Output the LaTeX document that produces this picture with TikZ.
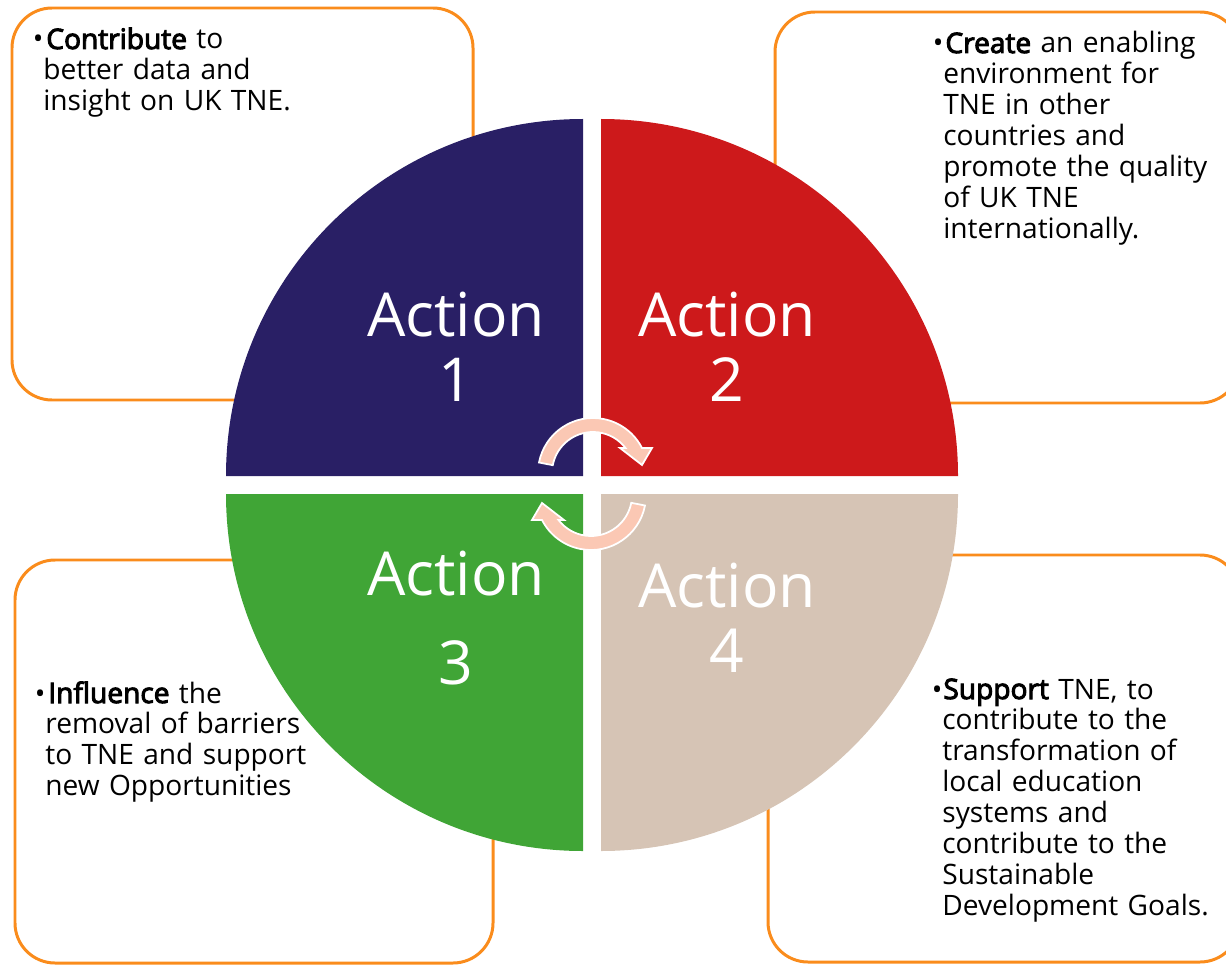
\documentclass[tikz,border=0pt]{standalone}
\usepackage{fontspec}
\setmainfont[AutoFakeBold=3.5]{Open Sans}

\definecolor{actnavy}{RGB}{41,31,101}
\definecolor{actred}{RGB}{205,25,27}
\definecolor{actgreen}{RGB}{64,165,54}
\definecolor{actbeige}{RGB}{214,196,181}
\definecolor{boxorange}{RGB}{250,140,28}
\definecolor{arrowpink}{RGB}{251,200,180}

\begin{document}
\begin{tikzpicture}[x=0.02cm,y=0.02cm,
    infobox/.style={draw=boxorange,line width=1.7pt,fill=white,rounded corners=0.8cm},
    infotext/.style={anchor=base west,inner sep=0pt,text width=7cm,align=left,
        font=\fontsize{16}{17.6}\selectfont},
    actlabel/.style={anchor=base,inner sep=0pt,text width=5cm,align=center,text=white},
    turn/.style={fill=arrowpink,draw=white,line width=1pt},
    cyclearrow/.pic={
        \filldraw[turn] (169:55) arc[start angle=169,end angle=27,radius=55]
            -- (59,25) -- (49,8) -- (27,25) -- (37.6:41)
            arc[start angle=37.6,end angle=169,radius=41] -- cycle;
    }]
    \clip (0,0) rectangle (1226,965);

    %boxes
    \filldraw[infobox] (12,957) rectangle (473,565);
    \filldraw[infobox] (775,953) rectangle (1240,562);
    \filldraw[infobox] (15,405) rectangle (493,2);
    \filldraw[infobox] (768,410) rectangle (1240,3);

    %quadrants
    \fill[actnavy] (583,489) -- (226,489) arc[start angle=180,end angle=90,radius=357] -- cycle;
    \fill[actred] (601,489) -- (601,846) arc[start angle=90,end angle=0,radius=357] -- cycle;
    \fill[actgreen] (583,471) -- (583,114) arc[start angle=270,end angle=180,radius=357] -- cycle;
    \fill[actbeige] (601,471) -- (958,471) arc[start angle=0,end angle=-90,radius=357] -- cycle;

    %texts
    \node[infotext] (t1) at (43,916) {\llap{•}\kern1.7pt\textbf{Contribute} to\\better data and\\insight on UK TNE.};
    \node[infotext] (t2) at (943,912) {\llap{•}\kern1.2pt\textbf{Create} an enabling\\environment for\\TNE in other\\countries and\\promote the quality\\of UK TNE\\internationally.};
    \node[infotext] (t3) at (45,262) {\llap{•}\kern1.7pt\textbf{Influence} the\\removal of barriers\\to TNE and support\\new Opportunities};
    \node[infotext] (t4) at (942,266) {\llap{•}\kern0.6pt\textbf{Support} TNE, to\\contribute to the\\transformation of\\local education\\systems and\\contribute to the\\Sustainable\\Development Goals.};

    %action labels
    \node[actlabel,font=\fontsize{34.5}{37.5}\selectfont] (a1) at (456,629) {Action\\1};
    \node[actlabel,font=\fontsize{34.5}{37.5}\selectfont] (a2) at (727,629) {Action\\2};
    \node[actlabel,font=\fontsize{34.5}{51.2}\selectfont] (a3) at (456,370) {Action\\3};
    \node[actlabel,font=\fontsize{34.5}{37}\selectfont] (a4) at (727,358) {Action\\4};

    %arrows
    \pic at (593,492) {cyclearrow};
    \pic[rotate=180] at (591,470) {cyclearrow};
\end{tikzpicture}
\end{document}
